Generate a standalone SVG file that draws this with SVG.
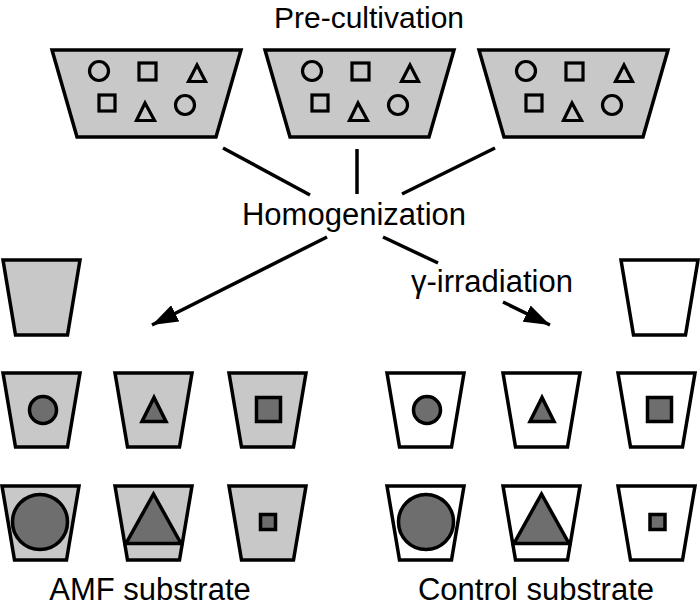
<svg xmlns="http://www.w3.org/2000/svg" width="700" height="607" viewBox="0 0 700 607">
<style>
.lbl{font-family:"Liberation Sans",Arial,sans-serif;font-size:31px;fill:#000;text-anchor:middle}
.tray{fill:#c8c8c8;stroke:#000;stroke-width:3.5;stroke-linejoin:miter}
.sh{fill:#c8c8c8;stroke:#000;stroke-width:3.2}
.potg{fill:#c8c8c8;stroke:#000;stroke-width:3.5}
.potw{fill:#fff;stroke:#000;stroke-width:3.5}
.dk{fill:#6e6e6e;stroke:#000;stroke-width:3.5}
.con{stroke:#000;stroke-width:3.5;fill:none}
</style>
<defs>
<marker id="ah" viewBox="0 0 26 18" refX="26" refY="9" markerWidth="26" markerHeight="18" markerUnits="userSpaceOnUse" orient="auto">
<path d="M0,0 L26,9 L0,18 Z" fill="#000"/>
</marker>
<g id="trayShape">
<path class="tray" d="M0,50 L189,50 L164,137 L25,137 Z"/>
<circle class="sh" cx="47" cy="71" r="9.5"/>
<rect class="sh" x="87" y="63" width="17" height="17"/>
<path class="sh" d="M145,65 L136.5,81.5 L153.5,81.5 Z"/>
<rect class="sh" x="47" y="95" width="16" height="16"/>
<path class="sh" d="M93,103 L84.5,120.5 L102.5,120.5 Z"/>
<circle class="sh" cx="133" cy="105" r="9.5"/>
</g>
</defs>

<text class="lbl" x="369" y="28" style="font-size:30px">Pre-cultivation</text>
<text class="lbl" x="354" y="225">Homogenization</text>
<text class="lbl" x="492" y="292">γ-irradiation</text>
<text class="lbl" x="150" y="600">AMF substrate</text>
<text class="lbl" x="536" y="600">Control substrate</text>

<g id="tray1"><use href="#trayShape" x="52"/></g>
<g id="tray2"><use href="#trayShape" x="265"/></g>
<g id="tray3"><use href="#trayShape" x="479"/></g>

<g id="connectors">
<line class="con" x1="223" y1="148" x2="310" y2="195"/>
<line class="con" x1="357" y1="149" x2="357" y2="194"/>
<line class="con" x1="495" y1="148" x2="402" y2="194"/>
<line class="con" x1="327" y1="237" x2="152" y2="325" marker-end="url(#ah)"/>
<line class="con" x1="383" y1="237" x2="438" y2="263"/>
<line class="con" x1="503" y1="302" x2="550" y2="325" marker-end="url(#ah)"/>
</g>

<g id="amf-empty" transform="translate(3,260)">
<path class="potg" d="M0,0 L77,0 L64.5,75 L12.5,75 Z"/>
</g>
<g id="ctrl-empty" transform="translate(621,260)">
<path class="potw" d="M0,0 L77,0 L64.5,75 L12.5,75 Z"/>
</g>

<g id="amf-r2-1" transform="translate(3,373)">
<path class="potg" d="M0,0 L77,0 L64.5,74 L12.5,74 Z"/>
<circle class="dk" cx="40" cy="37" r="13.5"/>
</g>
<g id="amf-r2-2" transform="translate(115,373)">
<path class="potg" d="M0,0 L77,0 L64.5,74 L12.5,74 Z"/>
<path class="dk" d="M39,24.5 L27,48.5 L51,48.5 Z"/>
</g>
<g id="amf-r2-3" transform="translate(229,373)">
<path class="potg" d="M0,0 L77,0 L64.5,74 L12.5,74 Z"/>
<rect class="dk" x="27.5" y="24.5" width="24" height="24"/>
</g>
<g id="amf-r3-1" transform="translate(2,486)">
<path class="potg" d="M0,0 L77,0 L64.5,74 L12.5,74 Z"/>
<circle class="dk" cx="38" cy="36" r="27.5"/>
</g>
<g id="amf-r3-2" transform="translate(115,486)">
<path class="potg" d="M0,0 L77,0 L64.5,74 L12.5,74 Z"/>
<path class="dk" d="M38.5,8 L11,57.5 L66,57.5 Z"/>
</g>
<g id="amf-r3-3" transform="translate(229,486)">
<path class="potg" d="M0,0 L77,0 L64.5,74 L12.5,74 Z"/>
<rect class="dk" x="31.5" y="28.5" width="15" height="15"/>
</g>

<g id="ctrl-r2-1" transform="translate(387,373)">
<path class="potw" d="M0,0 L77,0 L64.5,74 L12.5,74 Z"/>
<circle class="dk" cx="40" cy="37" r="13.5"/>
</g>
<g id="ctrl-r2-2" transform="translate(503,373)">
<path class="potw" d="M0,0 L77,0 L64.5,74 L12.5,74 Z"/>
<path class="dk" d="M39,24.5 L27,48.5 L51,48.5 Z"/>
</g>
<g id="ctrl-r2-3" transform="translate(618,373)">
<path class="potw" d="M0,0 L77,0 L64.5,74 L12.5,74 Z"/>
<rect class="dk" x="29.5" y="24.5" width="24" height="24"/>
</g>
<g id="ctrl-r3-1" transform="translate(387,486)">
<path class="potw" d="M0,0 L77,0 L64.5,74 L12.5,74 Z"/>
<circle class="dk" cx="39" cy="36" r="27.5"/>
</g>
<g id="ctrl-r3-2" transform="translate(503,486)">
<path class="potw" d="M0,0 L77,0 L64.5,74 L12.5,74 Z"/>
<path class="dk" d="M38.5,8 L11,57.5 L66,57.5 Z"/>
</g>
<g id="ctrl-r3-3" transform="translate(618,486)">
<path class="potw" d="M0,0 L77,0 L64.5,74 L12.5,74 Z"/>
<rect class="dk" x="32" y="28.5" width="15" height="15"/>
</g>
</svg>
